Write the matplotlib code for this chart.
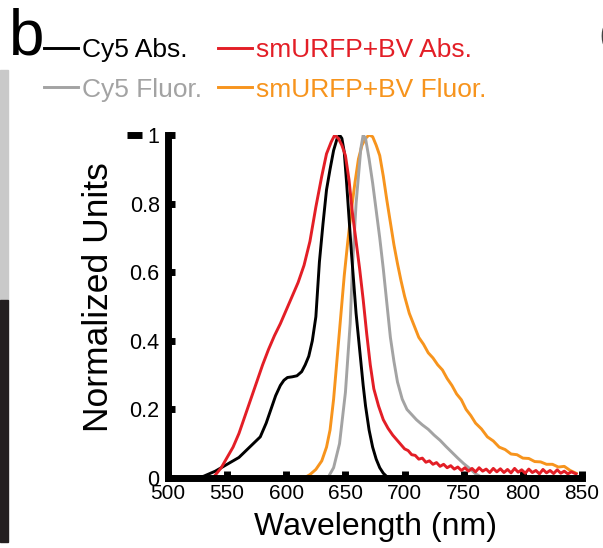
import matplotlib
matplotlib.use('Agg')
import matplotlib.pyplot as plt
from matplotlib.patches import Rectangle

plt.rcParams['font.family'] = ['Liberation Sans', 'DejaVu Sans']

# Cy5 absorbance
cy5_abs_x = [520, 530, 540, 550, 560, 566, 572, 578, 583, 587, 591, 595, 598, 601, 605, 609, 613,
             616, 619, 622, 625, 628, 631, 634, 637, 640, 643, 645, 647, 649, 651, 653, 655, 657,
             659, 661, 663, 665, 667, 670, 673, 676, 679, 682, 685, 688]
cy5_abs_y = [0, 0.005, 0.02, 0.04, 0.06, 0.08, 0.10, 0.12, 0.16, 0.20, 0.24, 0.27, 0.285, 0.293,
             0.295, 0.298, 0.31, 0.33, 0.355, 0.40, 0.47, 0.63, 0.74, 0.84, 0.90, 0.955, 0.99, 1.0,
             0.99, 0.95, 0.86, 0.76, 0.66, 0.57, 0.48, 0.41, 0.34, 0.27, 0.21, 0.14, 0.09, 0.055,
             0.03, 0.014, 0.004, 0]

# Cy5 fluorescence
cy5_fl_x = [635, 640, 645, 650, 654, 656, 659, 661, 663, 665, 667, 670, 673, 676, 679, 682, 685,
            688, 691, 694, 698, 702, 706, 710, 715, 720, 725, 730, 735, 740, 745, 750, 755, 760, 765]
cy5_fl_y = [0, 0.03, 0.10, 0.25, 0.45, 0.62, 0.80, 0.88, 0.96, 1.0, 0.99, 0.93, 0.86, 0.78, 0.70,
            0.61, 0.51, 0.41, 0.34, 0.28, 0.23, 0.20, 0.185, 0.17, 0.155, 0.142, 0.125, 0.11,
            0.092, 0.075, 0.058, 0.042, 0.028, 0.012, 0.003]

# smURFP+BV absorbance
urfp_abs_x = [538, 545, 550, 555, 560, 565, 570, 575, 580, 585, 590, 595, 600, 605, 610, 615, 620,
              625, 630, 634, 638, 641, 644, 647, 650, 653, 656, 659, 662, 665, 668, 671, 674, 678,
              682, 686, 690, 695, 700, 703, 706, 709, 712, 715, 718, 721, 724, 727, 730, 733, 736,
              739, 742, 745, 748, 751, 754, 757, 760, 763, 766, 769, 772, 775, 778, 781, 784, 787,
              790, 793, 796, 799, 802, 805, 808, 811, 814, 817, 820, 823, 826, 829, 832, 835, 838,
              841, 845]
urfp_abs_y = [0, 0.03, 0.06, 0.09, 0.13, 0.18, 0.23, 0.28, 0.33, 0.375, 0.415, 0.45, 0.49, 0.53,
              0.57, 0.62, 0.69, 0.79, 0.88, 0.945, 0.98, 1.0, 0.99, 0.97, 0.94, 0.87, 0.77, 0.69,
              0.61, 0.52, 0.42, 0.33, 0.26, 0.21, 0.17, 0.145, 0.125, 0.105, 0.085, 0.08, 0.068,
              0.066, 0.055, 0.058, 0.046, 0.05, 0.04, 0.045, 0.034, 0.04, 0.03, 0.036, 0.026, 0.032,
              0.022, 0.03, 0.02, 0.028, 0.018, 0.03, 0.02, 0.026, 0.016, 0.028, 0.018, 0.027, 0.016,
              0.025, 0.015, 0.028, 0.017, 0.024, 0.014, 0.026, 0.016, 0.022, 0.012, 0.025, 0.015,
              0.022, 0.013, 0.024, 0.014, 0.02, 0.012, 0.018, 0.012]

# smURFP+BV fluorescence
urfp_fl_x = [615, 620, 625, 630, 634, 637, 640, 643, 646, 649, 652, 655, 658, 661, 664, 667, 670,
             673, 676, 679, 682, 685, 688, 691, 694, 697, 700, 704, 708, 712, 716, 720, 724, 728,
             732, 736, 740, 744, 748, 752, 756, 760, 765, 770, 775, 780, 785, 790, 795, 800, 805,
             810, 815, 820, 825, 830, 835, 840, 845]
urfp_fl_y = [0, 0.01, 0.025, 0.05, 0.09, 0.14, 0.23, 0.35, 0.47, 0.59, 0.69, 0.78, 0.86, 0.93,
             0.97, 0.99, 1.0, 0.995, 0.97, 0.94, 0.88, 0.81, 0.745, 0.68, 0.625, 0.575, 0.53, 0.48,
             0.445, 0.41, 0.39, 0.365, 0.35, 0.33, 0.315, 0.29, 0.27, 0.245, 0.228, 0.2, 0.182,
             0.16, 0.143, 0.12, 0.108, 0.09, 0.083, 0.07, 0.068, 0.058, 0.057, 0.048, 0.047, 0.04,
             0.04, 0.032, 0.034, 0.022, 0.014]

series = [
    (cy5_abs_x, cy5_abs_y, 'Cy5 Abs.', '#000000'),
    (cy5_fl_x, cy5_fl_y, 'Cy5 Fluor.', '#a3a3a3'),
    (urfp_abs_x, urfp_abs_y, 'smURFP+BV Abs.', '#e31e26'),
    (urfp_fl_x, urfp_fl_y, 'smURFP+BV Fluor.', '#f7941d'),
]

fig = plt.figure(figsize=(6.03, 5.48), dpi=100)
ax = fig.add_axes([0.2786, 0.1277, 0.6866, 0.626])

draw_order = [3, 1, 0, 2]
handles = [None] * 4
for i in draw_order:
    x, y, lab, col = series[i]
    handles[i], = ax.plot(x, y, color=col, lw=2.1, label=lab)

ax.set_xlim(500, 850)
ax.set_ylim(0, 1)
ax.set_xticks([500, 550, 600, 650, 700, 750, 800, 850])
ax.set_yticks([0, 0.2, 0.4, 0.6, 0.8, 1])
ax.set_yticklabels(['0', '0.2', '0.4', '0.6', '0.8', '1'])
for s in ['top', 'right']:
    ax.spines[s].set_visible(False)
for s in ['left', 'bottom']:
    ax.spines[s].set_linewidth(5)
ax.tick_params(direction='in', length=5, width=5)
ax.tick_params(axis='x', labelsize=15, pad=4)
ax.tick_params(axis='y', labelsize=15.5, pad=6)
ax.set_xlabel('Wavelength (nm)', fontsize=23, labelpad=7)
ax.set_ylabel('Normalized Units', fontsize=25.5)
ax.yaxis.set_label_coords(-0.128, 0.528)

# odd outer tick beside the "1" label
ax.plot([-0.099, -0.063], [1.0, 1.0], transform=ax.transAxes, color='k', lw=5,
        solid_capstyle='butt', clip_on=False)

fig.legend(handles=handles, loc='upper left', bbox_to_anchor=(0.073, 0.93), ncol=2,
           frameon=False, fontsize=19, labelcolor='linecolor', handlelength=1.3,
           handletextpad=0.15, columnspacing=0.6, labelspacing=0.58, borderpad=0,
           borderaxespad=0)

fig.text(0.015, 0.9, 'b', fontsize=46, va='baseline', ha='left')
fig.text(0.993, 0.905, 'c', fontsize=44, va='baseline', ha='left', color='#444444')

fig.patches.append(Rectangle((0, 1 - 300 / 548), 8 / 603, 230 / 548, transform=fig.transFigure,
                             color='#c9c9c9', zorder=0))
fig.patches.append(Rectangle((0, 1 - 542 / 548), 8 / 603, 242 / 548, transform=fig.transFigure,
                             color='#231f20', zorder=0))

fig.savefig('out.png', dpi=100)
